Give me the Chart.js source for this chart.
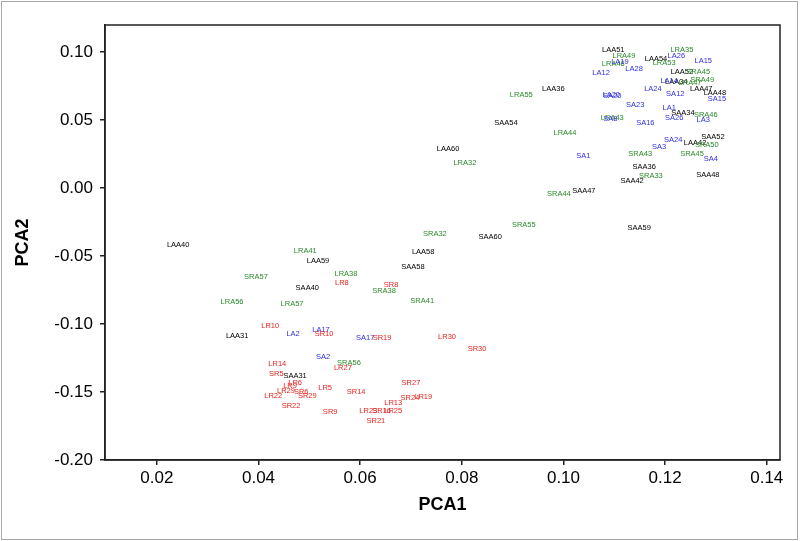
<!DOCTYPE html>
<html>
<head>
<meta charset="utf-8">
<script src="https://cdn.jsdelivr.net/npm/chart.js@4.4.0/dist/chart.umd.min.js"></script>
<style>
html,body{margin:0;padding:0;background:#fff;}
#wrap{width:800px;height:541px;position:relative;}
</style>
</head>
<body>
<div id="wrap"><canvas id="c" width="800" height="541"></canvas></div>
<script>
// ---- data ----
const xTicks = [0.02, 0.04, 0.06, 0.08, 0.10, 0.12, 0.14];
const yTicks = [-0.20, -0.15, -0.10, -0.05, 0.00, 0.05, 0.10];

// black group
const blackNames = ["LAA51","LAA54","LAA52","LAA34","LAA47","LAA48","SAA34","SAA52","LAA42","SAA36","SAA48","SAA42","SAA47","LAA36","SAA54","LAA60","SAA59","SAA60","LAA58","SAA58","LAA40","LAA59","SAA40","LAA31","SAA31"];
const blackX = [0.1098,0.1182,0.1233,0.1222,0.1271,0.1298,0.1235,0.1294,0.1259,0.1159,0.1284,0.1135,0.1040,0.0980,0.0887,0.0773,0.1149,0.0856,0.0724,0.0704,0.0242,0.0517,0.0496,0.0358,0.0472];
const blackY = [0.1015,0.0949,0.0853,0.0780,0.0728,0.0699,0.0552,0.0375,0.0331,0.0155,0.0096,0.0052,-0.0022,0.0728,0.0478,0.0287,-0.0294,-0.0360,-0.0470,-0.0580,-0.0419,-0.0536,-0.0735,-0.1087,-0.1381];

// green group
const greenNames = ["LRA35","LRA49","LRA53","LRA48","SRA45","SRA49","LRA47","SRA46","LRA43","SRA50","SRA43","SRA45","SRA33","LRA55","LRA44","LRA32","SRA44","SRA55","SRA32","LRA38","SRA38","SRA41","LRA41","SRA57","LRA56","LRA57","SRA56"];
const greenX = [0.1233,0.1119,0.1198,0.1098,0.1265,0.1273,0.1249,0.1280,0.1096,0.1282,0.1151,0.1253,0.1172,0.0917,0.1003,0.0806,0.0991,0.0922,0.0747,0.0572,0.0647,0.0722,0.0492,0.0395,0.0348,0.0466,0.0578];
const greenY = [0.1015,0.0971,0.0919,0.0912,0.0853,0.0794,0.0772,0.0537,0.0515,0.0316,0.0250,0.0250,0.0089,0.0684,0.0405,0.0184,-0.0044,-0.0272,-0.0338,-0.0632,-0.0757,-0.0830,-0.0463,-0.0654,-0.0838,-0.0852,-0.1286];

// blue group
const blueNames = ["LA26","LA15","LA19","LA28","LA12","LA14","LA24","LA20","SA20","SA12","SA15","SA23","LA1","SA26","SA8","LA3","SA16","SA24","SA3","SA1","SA4","LA2","LA17","SA17","SA2"];
const blueX = [0.1222,0.1275,0.1111,0.1139,0.1074,0.1208,0.1176,0.1094,0.1096,0.1220,0.1302,0.1141,0.1208,0.1218,0.1092,0.1275,0.1161,0.1216,0.1188,0.1039,0.1290,0.0468,0.0523,0.0610,0.0527];
const blueY = [0.0971,0.0934,0.0927,0.0875,0.0846,0.0787,0.0728,0.0684,0.0677,0.0691,0.0655,0.0610,0.0588,0.0515,0.0508,0.0500,0.0478,0.0353,0.0302,0.0236,0.0214,-0.1073,-0.1043,-0.1102,-0.1242];

// red group
const redNames = ["LR8","SR8","LR10","SR10","SR19","LR30","SR30","LR27","LR14","SR5","LR6","LR9","LR29","SR6","SR29","LR22","LR5","SR22","SR9","SR14","SR27","SR24","LR19","LR13","LR23","SR16","LR25","SR21"];
const redX = [0.0564,0.0661,0.0423,0.0529,0.0643,0.0771,0.0830,0.0566,0.0437,0.0435,0.0472,0.0462,0.0454,0.0484,0.0496,0.0429,0.0531,0.0464,0.0541,0.0592,0.0700,0.0698,0.0724,0.0665,0.0616,0.0642,0.0665,0.0631];
const redY = [-0.0698,-0.0713,-0.1014,-0.1073,-0.1102,-0.1095,-0.1183,-0.1323,-0.1293,-0.1367,-0.1433,-0.1455,-0.1492,-0.1499,-0.1528,-0.1528,-0.1470,-0.1602,-0.1646,-0.1499,-0.1433,-0.1543,-0.1536,-0.1580,-0.1639,-0.1639,-0.1639,-0.1712];

const groups = [
  {names: blackNames, xs: blackX, ys: blackY, color: '#000000'},
  {names: greenNames, xs: greenX, ys: greenY, color: '#2a8a2a'},
  {names: blueNames, xs: blueX, ys: blueY, color: '#2f2fe0'},
  {names: redNames, xs: redX, ys: redY, color: '#e8231f'}
];

const datasets = groups.map(g => ({
  data: g.xs.map((x, i) => ({x: x, y: g.ys[i]})),
  names: g.names,
  labelColor: g.color,
  pointRadius: 0,
  pointHoverRadius: 0,
  showLine: false
}));

const FONT = '"Liberation Sans", Arial, Helvetica, sans-serif';

const labelPlugin = {
  id: 'labels',
  afterDatasetsDraw(chart) {
    const ctx = chart.ctx;
    ctx.save();
    ctx.font = '7.5px ' + FONT;
    ctx.textAlign = 'center';
    ctx.textBaseline = 'middle';
    chart.data.datasets.forEach((ds, di) => {
      const meta = chart.getDatasetMeta(di);
      ctx.fillStyle = ds.labelColor;
      meta.data.forEach((el, i) => {
        ctx.fillText(ds.names[i], el.x, el.y);
      });
    });
    ctx.restore();
  },
  afterDraw(chart) {
    const ctx = chart.ctx;
    const a = chart.chartArea;
    ctx.save();
    // plot box
    ctx.strokeStyle = '#222';
    ctx.lineWidth = 1.5;
    ctx.strokeRect(a.left, a.top, a.right - a.left, a.bottom - a.top);
    // outer frame
    ctx.strokeStyle = '#a8a8a8';
    ctx.lineWidth = 1;
    ctx.strokeRect(1.5, 1.5, 796, 538);
    // axis titles
    ctx.fillStyle = '#000';
    ctx.font = 'bold 18px ' + FONT;
    ctx.textAlign = 'center';
    ctx.textBaseline = 'middle';
    ctx.fillText('PCA1', (a.left + a.right) / 2, 505);
    ctx.translate(23, (a.top + a.bottom) / 2);
    ctx.rotate(-Math.PI / 2);
    ctx.fillText('PCA2', 0, 0);
    ctx.restore();
  }
};

new Chart(document.getElementById('c'), {
  type: 'scatter',
  data: {datasets: datasets},
  options: {
    responsive: false,
    animation: false,
    events: [],
    layout: {padding: {left: 0, top: 25, right: 20, bottom: 0}},
    plugins: {legend: {display: false}, tooltip: {enabled: false}},
    scales: {
      x: {
        type: 'linear',
        min: 0.0098,
        max: 0.1426,
        afterBuildTicks: s => { s.ticks = xTicks.map(v => ({value: v})); },
        afterFit: s => { s.height = 81; },
        ticks: {
          callback: v => Number(v).toFixed(2),
          color: '#000',
          font: {family: FONT, size: 17},
          padding: 3,
          maxRotation: 0,
          autoSkip: false
        },
        grid: {drawOnChartArea: false, drawTicks: true, tickLength: 5, color: '#222', lineWidth: 1.5},
        border: {display: true, color: '#222', width: 1.5}
      },
      y: {
        type: 'linear',
        min: -0.2,
        max: 0.12,
        afterBuildTicks: s => { s.ticks = yTicks.map(v => ({value: v})); },
        afterFit: s => { s.width = 105; },
        ticks: {
          callback: v => Number(v).toFixed(2),
          color: '#000',
          font: {family: FONT, size: 17},
          padding: 7,
          autoSkip: false
        },
        grid: {drawOnChartArea: false, drawTicks: true, tickLength: 5, color: '#222', lineWidth: 1.5},
        border: {display: true, color: '#222', width: 1.5}
      }
    }
  },
  plugins: [labelPlugin]
});
</script>
</body>
</html>
